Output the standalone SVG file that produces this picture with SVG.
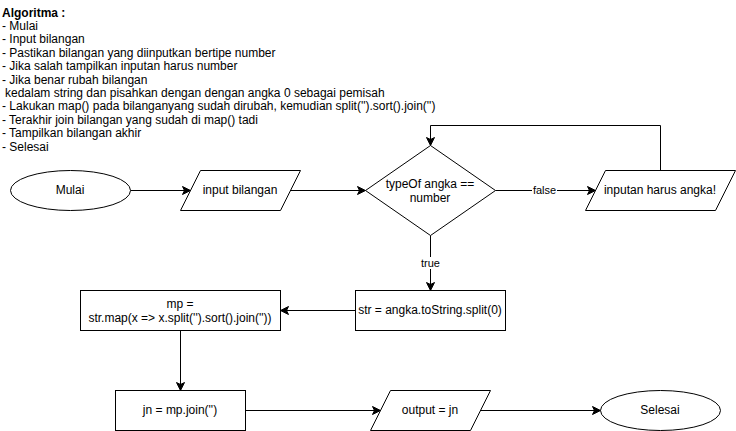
<svg xmlns="http://www.w3.org/2000/svg" width="736" height="431" viewBox="0 0 736 431">
  <style>
    .shape { fill: #ffffff; stroke: #000000; stroke-width: 1; }
    .edge { fill: none; stroke: #000000; stroke-width: 1; }
    .t { font-family: "Liberation Sans", Arial, Helvetica, sans-serif; font-size: 12px; fill: #000000; }
    .c { text-anchor: middle; }
    .lbl { font-family: "Liberation Sans", Arial, Helvetica, sans-serif; font-size: 11px; fill: #000000; text-anchor: middle; }
    .lblbg { fill: #ffffff; stroke: none; }
    .title { font-weight: bold; }
  </style>
  <defs>
    <marker id="arrow" markerUnits="userSpaceOnUse" markerWidth="12" markerHeight="12" viewBox="-10 -6 12 12" refX="0" refY="0" orient="auto">
      <path d="M0,0 L-8,-4 L-6,0 L-8,4 Z" fill="#000000" stroke="#000000" stroke-width="1" stroke-linejoin="miter"/>
    </marker>
  </defs>
  <rect x="0" y="0" width="736" height="431" fill="#ffffff"/>

  <g id="algorithm-text" class="t">
    <text x="2" y="16.5" class="title">Algoritma :</text>
    <text x="2" y="29.9">- Mulai</text>
    <text x="2" y="43.3">- Input bilangan</text>
    <text x="2" y="56.7">- Pastikan bilangan yang diinputkan bertipe number</text>
    <text x="2" y="70.1">- Jika salah tampilkan inputan harus number</text>
    <text x="2" y="83.5">- Jika benar rubah bilangan</text>
    <text x="5" y="96.9">kedalam string dan pisahkan dengan dengan angka 0 sebagai pemisah</text>
    <text x="2" y="110.3">- Lakukan map() pada bilanganyang sudah dirubah, kemudian split('').sort().join('')</text>
    <text x="2" y="123.7">- Terakhir join bilangan yang sudah di map() tadi</text>
    <text x="2" y="137.1">- Tampilkan bilangan akhir</text>
    <text x="2" y="150.5">- Selesai</text>
  </g>

  <g id="connectors">
    <g transform="translate(0.5,0.5)">
      <path class="edge" d="M130,190 L190,190" marker-end="url(#arrow)"/>
      <path class="edge" d="M290,190 L365,190" marker-end="url(#arrow)"/>
      <path class="edge" d="M495,190 L595,190" marker-end="url(#arrow)"/>
      <path class="edge" d="M660,170 L660,125 L430,125 L430,145" marker-end="url(#arrow)"/>
      <path class="edge" d="M430,235 L430,290" marker-end="url(#arrow)"/>
      <path class="edge" d="M355,310 L280,310" marker-end="url(#arrow)"/>
      <path class="edge" d="M180,330 L180,390" marker-end="url(#arrow)"/>
      <path class="edge" d="M245,410 L380,410" marker-end="url(#arrow)"/>
      <path class="edge" d="M480,410 L600,410" marker-end="url(#arrow)"/>
    </g>
    <rect class="lblbg" x="532" y="184" width="25" height="12"/>
    <text class="lbl" x="544.5" y="194">false</text>
    <rect class="lblbg" x="420" y="257" width="21" height="12"/>
    <text class="lbl" x="430.5" y="267">true</text>
  </g>

  <g id="node-mulai">
    <ellipse class="shape" cx="70.5" cy="190.5" rx="60" ry="20"/>
    <text class="t c" x="70" y="194">Mulai</text>
  </g>

  <g id="node-input">
    <path class="shape" d="M180.5,210.5 L200.5,170.5 L300.5,170.5 L280.5,210.5 Z"/>
    <text class="t c" x="240" y="194">input bilangan</text>
  </g>

  <g id="node-decision">
    <path class="shape" d="M430.5,145.5 L495.5,190.5 L430.5,235.5 L365.5,190.5 Z"/>
    <text class="t c" x="430" y="187.5">typeOf angka ==</text>
    <text class="t c" x="430" y="201.5">number</text>
  </g>

  <g id="node-error">
    <path class="shape" d="M585.5,210.5 L605.5,170.5 L735.5,170.5 L715.5,210.5 Z"/>
    <text class="t c" x="660" y="194">inputan harus angka!</text>
  </g>

  <g id="node-str">
    <rect class="shape" x="355.5" y="290.5" width="150" height="40"/>
    <text class="t c" x="430" y="314">str = angka.toString.split(0)</text>
  </g>

  <g id="node-mp">
    <rect class="shape" x="80.5" y="290.5" width="200" height="40"/>
    <text class="t c" x="180" y="307.5">mp =</text>
    <text class="t c" x="180" y="321.5">str.map(x =&gt; x.split('').sort().join(''))</text>
  </g>

  <g id="node-jn">
    <rect class="shape" x="115.5" y="390.5" width="130" height="40"/>
    <text class="t c" x="180" y="414">jn = mp.join('')</text>
  </g>

  <g id="node-output">
    <path class="shape" d="M370.5,430.5 L390.5,390.5 L490.5,390.5 L470.5,430.5 Z"/>
    <text class="t c" x="430" y="414">output = jn</text>
  </g>

  <g id="node-selesai">
    <ellipse class="shape" cx="660.5" cy="410.5" rx="60" ry="20"/>
    <text class="t c" x="660" y="414">Selesai</text>
  </g>
</svg>
